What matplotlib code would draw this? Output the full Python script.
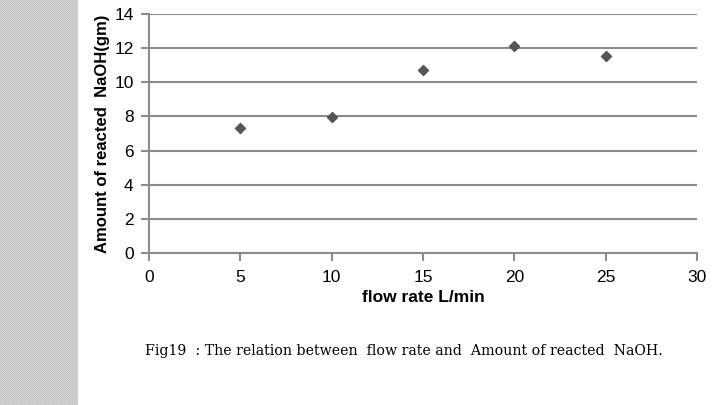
import numpy as np
import matplotlib
matplotlib.use("Agg")
import matplotlib.pyplot as plt
from matplotlib.colors import ListedColormap

flow_rate = [5, 10, 15, 20, 25]
naoh_reacted = [7.3, 7.95, 10.7, 12.1, 11.55]
x_ticks = [0, 5, 10, 15, 20, 25, 30]
y_ticks = [0, 2, 4, 6, 8, 10, 12, 14]

plt.rcParams['font.family'] = ['Liberation Sans', 'DejaVu Sans']

fig = plt.figure(figsize=(7.2, 4.05), dpi=100)
fig.patch.set_facecolor('white')

# gray dotted strip on the left
strip = fig.add_axes([0, 0, 78 / 720, 1])
tex = np.indices((405, 78)).sum(axis=0) % 2
strip.imshow(tex, cmap=ListedColormap(['#c3c3c3', '#d3d3d3']), aspect='auto',
             interpolation='nearest')
strip.axis('off')

ax = fig.add_axes([149 / 720, 1 - 253 / 405, 548 / 720, 239 / 405])
ax.scatter(flow_rate, naoh_reacted, marker='D', s=26, color='#555555',
           edgecolors='#555555', zorder=3)

ax.set_xlim(0, 30)
ax.set_ylim(0, 14)
ax.set_xticks(x_ticks)
ax.set_yticks(y_ticks)
ax.grid(axis='y', color='#8c8c8c', linewidth=1.5)
ax.set_axisbelow(True)
for s in ['top', 'right']:
    ax.spines[s].set_visible(False)
for s in ['left', 'bottom']:
    ax.spines[s].set_color('#8c8c8c')
    ax.spines[s].set_linewidth(1.5)
ax.tick_params(colors='#8c8c8c', labelcolor='black', labelsize=12.5, width=1.5, length=6)
ax.tick_params(axis='x', pad=6)
ax.tick_params(axis='y', pad=5)

ax.set_xlabel('flow rate L/min', fontsize=12.5, fontweight='bold', labelpad=4)
ax.set_ylabel('Amount of reacted  NaOH(gm)', fontsize=12, fontweight='bold', labelpad=3)

fig.text(145 / 720, 1 - 351 / 405, 'Fig19  : The relation between  flow rate and  Amount of reacted  NaOH.',
         family=['DejaVu Serif'], fontsize=10.2, va='center', ha='left')

fig.savefig('out.png', dpi=100)
